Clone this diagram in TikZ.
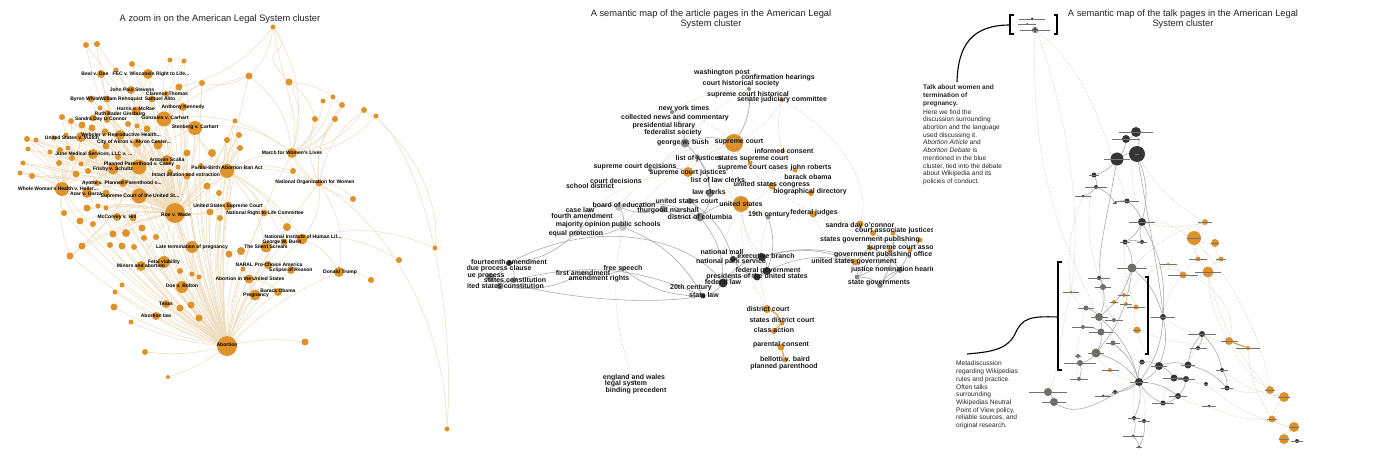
\documentclass[tikz,border=0pt]{standalone}
\usepackage{fontspec}
\setmainfont{Liberation Sans}
\newcommand{\trd}{...}
\definecolor{orA}{HTML}{E0922A}
\definecolor{edB}{HTML}{EEDCBC}
\definecolor{grE}{HTML}{A6A6A6}
\definecolor{dkN}{HTML}{353535}
\definecolor{grN}{HTML}{6E6C67}
\definecolor{mgN}{HTML}{8A8A8A}
\definecolor{lgN}{HTML}{C4C4C4}
\definecolor{ttlC}{HTML}{222222}
\pgfdeclarelayer{bgl}
\pgfdeclarelayer{edges}
\pgfsetlayers{bgl,edges,main}
\begin{document}
\begin{tikzpicture}[x=1pt,y=-1pt,
  dot/.style={circle,inner sep=0pt,minimum size=#1*1pt,fill=orA},
  lbl/.style={font=\fontsize{5}{5}\selectfont\bfseries,inner sep=0pt,text=black},
  mlb/.style={font=\fontsize{7}{7}\selectfont\bfseries,inner sep=0pt,text=black!90},
  ttl/.style={font=\fontsize{9.3}{10.2}\selectfont,align=center,inner sep=0pt,text=ttlC},
  note/.style={font=\fontsize{6.6}{7.7}\selectfont,align=left,inner sep=0pt,text=black!85},
  bedge/.style={draw=edB,line width=0.5pt},
  dedge/.style={draw=edB!85!black,line width=0.5pt,densely dotted},
  gedge/.style={draw=grE,line width=0.55pt},
  oedge/.style={draw=orA,line width=1pt},
  tl/.style={rectangle,inner sep=0pt,minimum height=0.9pt,minimum width=#1*0.85pt,fill=black!55},
  brk/.style={draw=black,line width=1.1pt},
]
\begin{pgfonlayer}{bgl}
\fill[white] (0,0) rectangle (1400,468);
\end{pgfonlayer}
\useasboundingbox (0,0) rectangle (1400,468);

% ================= titles =================
\node[ttl] (t1) at (220,19) {A zoom in on the American Legal System cluster};
\node[ttl] (t2) at (711,19) {A semantic map of the article pages in the American Legal\\System cluster};
\node[ttl] (t3) at (1183,19) {A semantic map of the talk pages in the American Legal\\System cluster};

% ================= LEFT PANEL nodes =================
\foreach \i/\x/\y/\d in {1/273/27/5,2/86/45/6,3/97/44/6,4/170/60/5,5/184/61/5,6/132/64/6,7/101/74/8,8/116/70/5,9/148/74/10,10/249/76/7,
11/289/82/7,12/202/83/6,13/179/87/7,14/131/90/8,15/166/94/6,16/91/99/7,17/107/99/7,18/152/99/7,19/323/101/5,20/333/97/5,
21/342/105/6,22/364/110/6,23/376/116/5,24/235/121/5,25/183/107/8,26/136/111/9,27/100/108/5,28/107/113/6,29/62/117/6,30/71/121/6,
31/93/118/7,32/164/119/15,33/82/125/7,34/107/120/6,35/128/124/6,36/137/126/5,37/147/129/7,38/195/128/14,39/315/119/6,40/335/119/6,
41/92/128/7,42/105/132/7,43/120/135/10,44/66/135/5,45/27/139/6,46/36/140/5,47/54/138/5,48/81/137/10,49/137/143/9,50/158/145/9,
51/106/146/7,52/239/135/6,53/227/140/6,54/240/148/6,55/28/149/5,56/50/152/5,57/60/150/6,58/68/148/5,59/93/154/10,60/72/158/6,
61/118/157/6,62/187/153/7,63/212/153/8,64/167/160/10,65/139/167/15,66/113/169/11,67/59/163/6,68/81/164/5,69/23/163/5,70/32/176/6,
71/20/173/5,72/88/171/6,73/76/174/7,74/178/167/5,75/170/172/6,76/201/166/6,77/227/171/14,78/187/176/7,79/293/171/6,80/292/153/10,
81/207/186/7,82/219/193/6,83/319/183/7,84/353/199/6,85/62/189/14,86/87/193/10,87/97/183/6,88/123/183/8,89/139/196/15,90/106/193/7,
91/64/213/6,92/87/208/7,93/98/206/5,94/106/208/5,95/80/221/7,96/117/217/8,97/175/213/20,98/210/212/7,99/228/206/9,100/220/218/6,
101/264/213/7,102/133/218/7,103/93/224/6,104/113/234/7,105/126/233/8,106/142/228/7,107/144/238/6,108/156/237/6,109/82/246/7,110/110/245/6,
111/122/246/7,112/134/247/6,113/70/256/7,114/287/227/8,115/192/247/12,116/229/254/7,117/241/251/8,118/266/247/11,119/302/239/11,120/284/242/7,
121/435/248/5,122/399/260/6,123/371/280/6,124/339/272/10,125/164/262/12,126/141/266/10,127/180/271/6,128/192/274/5,129/199/277/5,130/268/265/8,
131/291/270/8,132/243/269/5,133/249/279/9,134/122/285/5,135/115/292/5,136/182/287/12,137/278/292/8,138/255/295/11,139/114/307/7,140/166/304/8,
141/180/308/7,142/191/305/7,143/156/316/8,144/199/318/7,145/131/322/5,146/227/346/20,147/305/342/7,148/145/352/6,149/168/377/4,150/447/429/5}
  {\node[dot=\d] (a\i) at (\x,\y) {};}

% ================= LEFT PANEL edges =================
\begin{pgfonlayer}{edges}
\foreach \v in {97,65,77,38,32,89,115,125,126,136,133,138,137,118,119,130,131,99,101,124,140,143,139,145,148,149,147,116,117,64,62,63,80,83,114,13,25,10,9,14,43,49,50,86,59,48,85,12,24,52,53,54,76,81,82,98,100,102,104,105,106,107,108,127,128,129,141,142,144,134,135,110,111,112,120,132,113,109,95,91,74,75,78}
  {\draw[bedge] (a146) to[bend left=9] (a\v);}
\foreach \v in {65,89,32,38,64,50,49,43,26,25,14,9,7,59,86,85,48,96,102,104,105,115,125,126,136,98,99,77,62,63,18,17,16,31,41,42,2,3,6,4,5,29,30,33,44,45,46,47,55,56,57,58,60,67,68,69,70,71,72,73,91,92,93,94,95,103,109,113,87,88,90,61,51,35,36,37,34,28,27,8,15,12,13,24,52,53,54,74,75,76,78,81,82}
  {\draw[bedge] (a97) to[bend right=10] (a\v);}
\foreach \v in {89,43,48,59,85,86,88,49,50,26,32,38,37,66,61,7,9,14,2,3,45,46,55,69,71,113,109,16,17,18,29,30,31,33,41,42,44,47,56,57,58,60}
  {\draw[bedge] (a65) to[bend left=12] (a\v);}
\foreach \v in {89,59,48,66,86,45,55,69,71,70,67,91,95,113,29,30,33,44,46,47,56,57}
  {\draw[bedge] (a85) to[bend right=12] (a\v);}
\foreach \v in {38,26,25,13,12,10,77,15,18,6,4,5}
  {\draw[bedge] (a32) to[bend left=12] (a\v);}
\foreach \v in {38,80,83,79,53,54,52,24,81,82,99,101,119,118,114,120}
  {\draw[bedge] (a77) to[bend left=14] (a\v);}
\foreach \v in {19,20,21,22,23,39,40,83,10,11,1,79,84,38,32}
  {\draw[bedge] (a80) to[bend right=22] (a\v);}
\foreach \v in {21,22,39,40,84,124,119}
  {\draw[bedge] (a83) to[bend left=20] (a\v);}
\foreach \u/\v in {1/13,1/10,11/39,11/21,119/124,118/130,130/131,133/137,138/137,119/121,119/122,124/123,10/12,12/15,6/9,4/5,2/3,89/96,89/102,89/88,115/136,125/126,116/117,118/120}
  {\draw[bedge] (a\u) to[bend left=18] (a\v);}
\draw[bedge] (a23) .. controls (430,170) and (455,320) .. (a150);
\draw[bedge] (a83) .. controls (395,230) and (445,330) .. (a150);
\draw[bedge] (a22) .. controls (420,150) and (440,210) .. (a121);
\draw[bedge] (a1) .. controls (300,60) and (250,40) .. (a11);
\draw[bedge] (a1) .. controls (285,90) and (300,120) .. (a80);
\end{pgfonlayer}

% ================= LEFT PANEL labels =================
\foreach \x/\y/\t [count=\i] in {95/74/Beal v. Doe,151/74/FEC v. Wisconsin Right to Life\trd,132/90/John Paul Stevens,167/94/Clarence Thomas,
85/99/Byron White,121/99/William Rehnquist,160/99/Samuel Alito,183/107/Anthony Kennedy,136/109/Harris v. McRae,120/114/Ruth Bader Ginsburg,
101/119/Sandra Day O'Connor,165/118/Gonzales v. Carhart,195/127/Stenberg v. Carhart,72/138/United States v. Vuitch,121/135/Webster v. Reproductive Health\trd,
134/142/City of Akron v. Akron Center\trd,94/154/{June Medical Services, LLC v. \trd},167/160/Antonin Scalia,139/164/Planned Parenthood v. Casey,113/169/Frisby v. Schultz,
227/168/Partial-Birth Abortion Ban Act,292/153/March for Women's Lives,186/175/Intact dilation and extraction,315/182/National Organization for Women,
122/183/Ayotte v. Planned Parenthood o\trd,58/189/Whole Woman's Health v. Heller\trd,86/194/Azar v. Garza,140/196/Supreme Court of the United St\trd,
228/206/United States Supreme Court,265/213/National Right to Life Committee,176/215/Roe v. Wade,117/217/McCorvey v. Hill,
303/237/National Institute of Human Lif\trd,282/242/George W. Bush,266/247/The Silent Scream,192/247/Late termination of pregnancy,
164/262/Fetal viability,141/266/Minors and abortion,269/265/NARAL Pro-Choice America,291/270/Eclipse of Reason,340/272/Donald Trump,
250/279/Abortion in the United States,182/286/Doe v. Bolton,278/291/Barack Obama,256/295/Pregnancy,166/304/Texas,156/316/Abortion law,227/345/Abortion}
  {\node[lbl] (la\i) at (\x,\y) {\t};}

% ================= MIDDLE PANEL nodes =================
\foreach \i/\x/\y/\d/\c in {1/734/143/18/orA,2/741/204/16/orA,3/685/143/9/mgN,4/688/172/10/orA,5/710/193/8/mgN,6/700/217/9/mgN,7/663/209/7/mgN,
8/619/207/8/lgN,9/623/227/8/lgN,10/772/186/7/orA,11/811/193/6/orA,12/813/214/7/orA,13/768/217/5/mgN,14/860/224/7/orA,15/762/257/8/dkN,
16/733/259/6/dkN,17/767/271/8/dkN,18/757/277/7/dkN,19/723/283/9/dkN,20/703/296/5/dkN,21/509/263/6/dkN,22/490/277/8/mgN,23/500/286/7/mgN,
24/514/280/6/mgN,25/767/309/8/orA,26/782/323/5/orA,27/774/331/6/orA,28/781/347/7/orA,29/785/360/5/orA,30/783/151/4/orA,31/795/170/5/orA,
32/782/100/4/orA,33/749/89/4/mgN,34/750/163/5/orA,35/576/233/6/lgN,36/590/210/5/lgN,37/690/201/6/mgN,38/583/273/5/lgN,39/623/269/5/lgN,
40/634/382/4/lgN,41/697/157/5/mgN,42/873/233/6/orA,43/893/233/5/orA,44/870/248/5/orA,45/890/250/5/orA,46/910/250/5/orA,47/855/262/7/orA,
48/857/277/5/mgN,49/880/285/6/mgN,50/900/270/6/mgN,51/920/240/5/orA,52/672/112/4/mgN,53/650/170/4/mgN}
  {\node[dot=\d,fill=\c] (m\i) at (\x,\y) {};}
\draw[black!55,densely dotted,line width=0.5pt] (m1.center) circle (6.5pt);
\draw[black!55,densely dotted,line width=0.5pt] (m2.center) circle (5.5pt);

\begin{pgfonlayer}{edges}
\foreach \u/\v in {3/5,3/1,5/6,6/7,7/8,8/9,9/35,35/21,21/22,22/23,23/24,21/24,6/19,19/20,19/15,15/17,17/18,18/16,16/15,19/18,20/39,39/38,38/23,
17/47,15/47,47/48,48/49,49/50,42/47,43/49,44/50,45/48,46/49,44/48,42/45,52/3,33/1,36/8,53/4,41/5,37/6,6/2,36/35,9/20,8/6,37/16,13/17,24/20,51/46,43/46}
  {\draw[gedge] (m\u) to[bend left=18] (m\v);}
\draw[gedge] (m21) .. controls (600,215) and (690,240) .. (m19);
\draw[gedge] (m22) .. controls (560,300) and (650,305) .. (m20);
\draw[gedge] (m15) .. controls (800,245) and (840,250) .. (m47);
\foreach \u/\v in {1/2,1/4,1/10,1/30,1/32,1/33,2/10,2/13,2/25,10/11,11/12,12/14,14/42,25/26,2/4,1/34,34/31,31/11,2/12,1/52,1/41,2/37,
10/31,12/47,14/44,2/15,1/9,4/36,9/40,1/53,13/25,2/17,25/28,10/14,32/30,33/52,2/19,2/5}
  {\draw[dedge] (m\u) to[bend right=15] (m\v);}
\draw[dedge] (m32) .. controls (850,140) and (870,190) .. (m14);
\draw[dedge] (m33) .. controls (700,110) and (640,200) .. (m35);
\draw[oedge] (m28) -- (m29);
\draw[oedge] (m26) -- (m27);
\draw[oedge] (m25) to[bend left=20] (m26);
\end{pgfonlayer}

% ================= MIDDLE PANEL labels =================
\begin{scope}
\clip (467,60) rectangle (932,400);
\foreach \x/\y/\t [count=\i] in {722/73/washington post,778/78/confirmation hearings,741/84/court historical society,748/95/supreme court historical,
782/100/senate judiciary committee,684/109/new york times,675/118/collected news and commentary,664/126/presidential library,673/133/federalist society,
683/143/george w. bush,739/142/supreme court,784/151/informed consent,699/159/list of justices,753/159/states supreme court,635/167/supreme court decisions,
688/173/supreme court justices,753/168/supreme court cases,811/168/john roberts,808/177/barack obama,616/181/court decisions,718/180/list of law clerks,
590/186/school district,772/185/united states congress,810/192/biographical directory,709/192/law clerks,687/201/united states court,741/204/united states,
624/205/board of education,580/210/case law,668/211/thurgood marshall,582/216/fourth amendment,700/217/district of columbia,769/215/19th century,
814/213/federal judges,583/225/majority opinion,636/225/public schools,860/226/sandra day o'connor,576/234/equal protection,870/240/states government publishing,
722/252/national mall,766/256/executive branch,731/262/national park service,509/262/fourteenth amendment,854/262/united states government,623/269/free speech,
499/269/due process clause,768/271/federal government,583/273/first amendment,484/275.5/due process,757/277/presidents of the united states,515/280/states constitution,
599/279/amendment rights,723/282/federal law,879/283/state governments,691/288/20th century,704/295/state law,768/309/district court,782/320/states district court,
774/330/class action,781/345/parental consent,785/359/bellotti v. baird,784/367/planned parenthood,634/378/england and wales,626/384/legal system,636/391/binding precedent}
  {\node[mlb] (ml\i) at (\x,\y) {\t};}
\node[mlb,anchor=west] (mlx1) at (855,231) {court associate justices};
\node[mlb,anchor=west] (mlx2) at (867,248) {supreme court associate justice};
\node[mlb,anchor=west] (mlx3) at (834,255) {government publishing office};
\node[mlb,anchor=west] (mlx4) at (851,270) {justice nomination hearings};
\node[mlb,anchor=east] (mlx5) at (544,286) {united states constitution};
\end{scope}

% ================= RIGHT PANEL nodes =================
\foreach \i/\x/\y/\d/\c/\w in {1/1136/132/10/dkN/39,2/1126/139/8/dkN/32,3/1137/154/16/dkN/4,4/1117/159/13/dkN/30,5/1094/175/5/dkN/11,6/1096/187/4/dkN/25,
7/1083/196/3/dkN/18,8/1127/201/5/dkN/29,9/1115/203/3/dkN/4,10/1142/222/8/dkN/31,11/1205/222/6/orA/16,12/1125/242/5/dkN/12,13/1142/242/4/dkN/12,
14/1194/238/14/orA/17,15/1215/243/8/orA/10,16/1198/259/5/orA/22,17/1221/259/5/orA/11,18/1168/264/3/orA/20,19/1132/268/9/grN/35,20/1183/275/7/orA/35,
21/1208/272/11/orA/30,22/1099/278/4/dkN/25,23/1103/287/6/grN/18,24/1071/292/3/orA/18,25/1124/295/4/orA/14,26/1114/302/4/orA/9,27/1126/304/4/orA/15,
28/1136/307/5/orA/22,29/1086/308/5/grN/18,30/1099/317/8/grN/20,31/1114/320/4/grN/22,32/1163/317/6/dkN/28,33/1083/327/4/grN/27,34/1101/332/7/grN/28,
35/1137/330/7/orA/10,36/1113/343/5/grN/17,37/1202/334/6/dkN/33,38/1229/341/8/orA/20,39/1248/348/4/orA/28,40/1198/348/4/dkN/20,41/1096/353/9/grN/18,
42/1078/356/4/grN/7,43/1080/363/6/grN/38,44/1142/362/5/dkN/8,45/1159/366/8/dkN/18,46/1188/365/7/dkN/17,47/1222/370/4/dkN/13,48/1110/370/4/orA/20,
49/1079/379/4/grN/21,50/1174/378/7/dkN/27,51/1186/379/6/dkN/20,52/1139/382/8/dkN/21,53/1206/384/4/dkN/5,54/1227/388/5/dkN/14,55/1048/392/8/grN/45,
56/1054/402/8/grN/29,57/1115/392/4/dkN/8,58/1103/396/3/dkN/19,59/1178/396/6/dkN/22,60/1163/403/5/dkN/26,61/1209/406/3/dkN/17,62/1270/390/8/orA/12,
63/1284/397/10/orA/15,64/1272/419/7/orA/12,65/1294/427/10/orA/12,66/1284/439/10/orA/12,67/1297/441/4/dkN/13,68/1134/418/4/dkN/15,69/1144/421/4/dkN/13,
70/1133/436/3/dkN/23,71/1139/447/3/dkN/6,72/1032/19/3/dkN/30,73/1035/30/4/dkN/36,74/1027/24/2/dkN/22}
  {\node[dot=\d,fill=\c] (r\i) at (\x,\y) {};
   \node[tl=\w] (rt\i) at (\x,\y) {};}
\draw[black!70,line width=0.4pt] (r73.center) circle (2.8pt);

\begin{pgfonlayer}{edges}
\foreach \u/\v in {1/2,2/4,1/3,4/3,4/5,5/6,6/7,6/9,9/8,8/10,10/12,12/19,19/32,32/45,45/52,52/44,45/46,46/37,37/40,45/50,50/51,51/59,59/60,52/68,
68/70,70/71,69/71,19/30,30/34,34/41,41/43,43/49,55/56,41/52,29/30,23/30,22/23,33/34,36/52,52/57,32/52,10/32,3/10,37/47,47/54,46/54,52/59,
12/13,13/10,57/58,44/45,60/52,19/41,30/52}
  {\draw[gedge] (r\u) to[bend left=16] (r\v);}
\draw[gedge] (r56) .. controls (1080,420) and (1110,395) .. (r52);
\draw[gedge] (r3) .. controls (1150,230) and (1160,280) .. (r32);
\draw[gedge] (r4) .. controls (1105,230) and (1095,260) .. (r23);
\foreach \u/\v in {11/14,14/15,14/16,16/20,15/17,20/21,21/38,38/62,62/63,63/64,64/65,65/66,66/67,11/19,3/11,20/32,18/25,25/26,26/27,27/28,
28/35,35/45,24/29,73/30,21/62,39/64,53/65,47/63,35/38,19/25,32/37,40/46,12/28,54/62,61/64,20/18,17/21,29/33,41/48,48/52,
22/31,31/36,36/44,33/42,42/49,23/31,5/22,7/24,1/10,10/11,14/21,37/38,59/61,51/53,50/60,44/68,69/52}
  {\draw[dedge] (r\u) to[bend right=14] (r\v);}
\draw[dedge] (r73) .. controls (1090,70) and (1105,140) .. (r8);
\draw[dedge] (r72) .. controls (1060,90) and (1085,200) .. (r24);
\draw[dedge] (r10) .. controls (1200,215) and (1260,320) .. (r62);
\draw[dedge] (r19) .. controls (1190,260) and (1240,300) .. (r38);
\draw[dedge] (r24) .. controls (1060,330) and (1060,370) .. (r55);
\draw[oedge] (r38) -- (r39);
\end{pgfonlayer}

% ================= RIGHT PANEL annotations =================
\coordinate (bk1) at (1010,25);
\coordinate (bk2) at (957,82);
\draw[brk] (1013.5,15) -- (1010,15) -- (1010,34) -- (1013.5,34);
\draw[brk] (1053.5,15) -- (1057,15) -- (1057,34) -- (1053.5,34);
\draw[brk] (bk1) .. controls (972,25) and (958,45) .. (bk2);

\node[note,anchor=north west] (n1) at (923,84.8) {\bfseries Talk about women and\\\bfseries termination of\\\bfseries pregnancy.\\[1.3pt]
Here we find the\\discussion surrounding\\abortion and the language\\used discussing it.\\\textit{Abortion Article} and\\\textit{Abortion Debate} is\\mentioned in the blue\\cluster, tied into the debate\\about Wikipedia and its\\policies of conduct.};

\coordinate (bk3) at (1058,317);
\coordinate (bk4) at (967,354);
\draw[brk] (1061.5,262) -- (1058,262) -- (1058,370) -- (1061.5,370);
\draw[brk] (1144.5,277) -- (1148,277) -- (1148,354) -- (1144.5,354);
\draw[brk] (bk3) .. controls (1030,316) and (1022,318) .. (1015,334) .. controls (1007,350) and (990,352) .. (bk4);

\node[note,anchor=north west] (n2) at (956,361) {Metadiscussion\\regarding Wikipedias\\rules and practice.\\Often talks\\surrounding\\Wikipedias Neutral\\Point of View policy,\\reliable sources, and\\original research.};
\end{tikzpicture}
\end{document}
